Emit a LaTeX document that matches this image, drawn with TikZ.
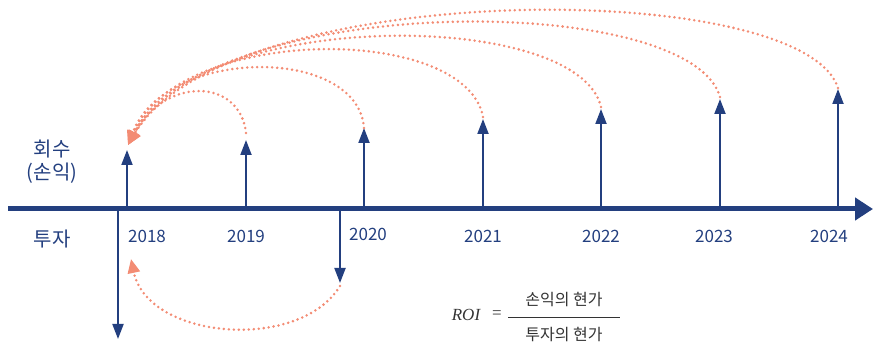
\documentclass[tikz,border=0pt]{standalone}
\usepackage{fontspec}
\setmainfont{Noto Sans CJK KR}
\newfontfamily\romanf{Liberation Serif}
\usetikzlibrary{arrows.meta}
\definecolor{navy}{HTML}{233F7F}
\definecolor{salmon}{HTML}{F38C74}
\definecolor{formula}{HTML}{333333}
\begin{document}
\begin{tikzpicture}[x=1pt,y=-1pt,
  axisline/.style={draw=navy, line width=5pt, -{Triangle[width=22pt,length=18pt]}},
  upar/.style={draw=navy, line width=2pt, -{Triangle[width=11pt,length=15pt]}},
  flow/.style={draw=salmon, line width=2.8pt, line cap=round, dash pattern=on 0pt off 5pt},
  flowtip/.style={flow, -{Triangle[width=12pt,length=14pt]}},
  yearlbl/.style={text=navy, font=\fontsize{17}{19}\selectfont, inner sep=0pt},
  sidelbl/.style={text=navy, font=\fontsize{20}{23}\selectfont, inner sep=0pt},
  ftext/.style={text=formula, font=\fontsize{16}{18}\selectfont, inner sep=0pt}]
\useasboundingbox (0,0) rectangle (873,347);

% axis
\coordinate (ax0) at (8,209);
\coordinate (ax1) at (873,209);
\draw[axisline] (ax0) -- (ax1);

% up arrows (returns)
\foreach \n/\x/\t in {18/127/150, 19/246/140, 20/364/128, 21/483/119, 22/601/109, 23/720/99, 24/838/89}{
  \coordinate (b\n) at (\x,209);
  \coordinate (t\n) at (\x,\t);
  \draw[upar] (b\n) -- (t\n);
}

% down arrows (investments)
\coordinate (d18a) at (118,209);
\coordinate (d18b) at (118,339);
\draw[upar] (d18a) -- (d18b);
\coordinate (d20a) at (340,209);
\coordinate (d20b) at (340,283);
\draw[upar] (d20a) -- (d20b);

% year labels
\node[yearlbl] (y18) at (147,236) {2018};
\node[yearlbl] (y19) at (246,236) {2019};
\node[yearlbl] (y20) at (368,234) {2020};
\node[yearlbl] (y21) at (483,236) {2021};
\node[yearlbl] (y22) at (601,236) {2022};
\node[yearlbl] (y23) at (714,236) {2023};
\node[yearlbl] (y24) at (829,236) {2024};

% side labels
\node[sidelbl] (hs) at (52,149) {회수};
\node[sidelbl] (sy) at (52,173) {(손익)};
\node[sidelbl] (tj) at (52,239) {투자};

% dotted flows to 2018
\coordinate (end) at (128,145);
\coordinate (s19) at (246,133);
\coordinate (s20) at (364,128);
\coordinate (s21) at (483,117);
\coordinate (s22) at (601,107);
\coordinate (s23) at (720,97);
\coordinate (s24) at (838,88);
\draw[flowtip] (s19) .. controls (240,78) and (165,76) .. (end);
\draw[flowtip] (s20) .. controls (358,46) and (166,46) .. (end);
\draw[flowtip] (s21) .. controls (466,24) and (180,24) .. (end);
\draw[flowtip] (s22) .. controls (578,8) and (196,8) .. (end);
\draw[flowtip] (s23) .. controls (690,-9) and (212,-9) .. (end);
\draw[flowtip] (s24) .. controls (803,-23) and (228,-23) .. (end);

% dotted flow from 2020 investment to 2018
\coordinate (bs) at (340,286);
\coordinate (be) at (131,259);
\draw[flowtip] (bs) .. controls (300,352) and (148,340) .. (be);

% ROI formula
\node[inner sep=0pt, text=formula, font=\romanf\itshape\fontsize{17}{19}\selectfont] (roi) at (466,315) {ROI};
\node[inner sep=0pt, text=formula, font=\romanf\fontsize{17}{19}\selectfont] (eq) at (497,315) {=};
\coordinate (f0) at (508,317);
\coordinate (f1) at (620,317);
\draw[formula, line width=0.8pt] (f0) -- (f1);
\node[ftext] (num) at (564,300) {손익의 현가};
\node[ftext] (den) at (564,335) {투자의 현가};
\end{tikzpicture}
\end{document}
